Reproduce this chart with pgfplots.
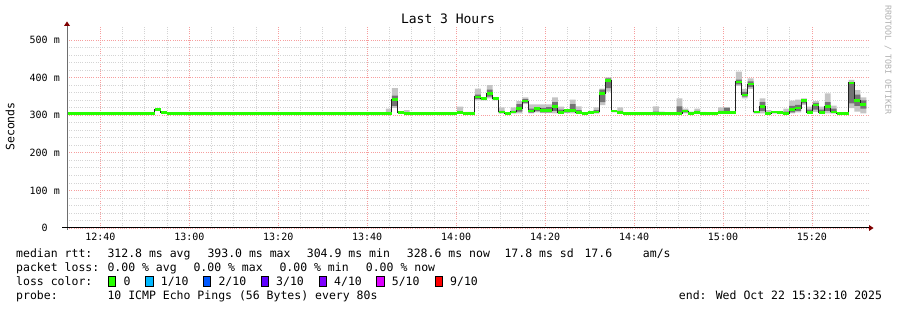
\documentclass[border=0pt]{standalone}
\usepackage{fontspec}
\usepackage{pgfplots}
\usepackage{pgfplotstable}
\pgfplotsset{compat=1.18}
\usepgfplotslibrary{fillbetween}
\newfontfamily\mono{DejaVu Sans Mono}
\newcommand{\tickfont}{\mono\fontsize{10}{12}\selectfont}
\newcommand{\lgfont}{\mono\fontsize{11.5}{13}\selectfont}
\newcommand{\titlefont}{\mono\fontsize{13}{15}\selectfont}
\newcommand{\wmfont}{\mono\fontsize{8.3}{9}\selectfont}
\definecolor{mgrid}{RGB}{246,158,158}
\definecolor{ngrid}{RGB}{212,212,212}
\definecolor{smokeA}{RGB}{196,196,196}
\definecolor{smokeB}{RGB}{115,115,115}
\definecolor{medline}{RGB}{32,32,32}
\definecolor{medgreen}{HTML}{26FF00}
\definecolor{arrowred}{HTML}{7F0000}
\definecolor{yaxis}{RGB}{110,110,110}
\definecolor{wm}{RGB}{176,176,176}
\definecolor{lossA}{HTML}{26FF00}
\definecolor{lossB}{HTML}{00B8FF}
\definecolor{lossC}{HTML}{0059FF}
\definecolor{lossD}{HTML}{5E00FF}
\definecolor{lossE}{HTML}{7E00FF}
\definecolor{lossF}{HTML}{DD00FF}
\definecolor{lossG}{HTML}{FF0000}

% t = minutes after 12:00; values in ms
\pgfplotstableread{
t med min lo hi max
32.00 305 305 305 305 305
52.22 316 316 316 316 316
53.55 307 307 307 307 307
54.88 305 305 305 305 305
104.22 305 305 305 305 318
105.55 342 320 325 352 372
106.88 308 305 305 308 308
108.22 305 305 305 305 314
109.55 305 305 305 305 305
120.22 308 305 305 308 323
121.55 305 305 305 305 309
124.22 349 340 344 355 371
125.55 344 340 342 346 348
126.88 358 345 350 368 380
128.22 344 340 342 345 346
129.55 309 305 306 312 321
130.88 305 305 305 305 305
132.22 309 305 306 312 321
133.55 318 305 310 330 338
134.88 338 330 333 343 348
136.22 311 305 307 318 329
137.55 318 308 311 322 329
138.88 312 306 308 320 329
140.22 313 306 308 322 329
141.55 324 305 312 335 348
142.88 308 305 305 315 323
144.22 312 306 308 314 316
145.55 313 305 309 330 342
146.88 308 305 306 314 324
148.22 305 305 305 305 305
149.55 307 305 305 308 309
150.88 309 305 306 314 321
152.22 358 327 335 368 371
153.55 392 363 372 398 401
154.88 311 308 309 312 313
156.22 307 305 305 312 321
157.55 305 305 305 305 305
164.22 305 305 305 310 324
165.55 305 305 305 305 310
166.88 305 305 305 305 305
169.55 305 305 305 324 345
170.88 311 305 308 314 318
172.22 305 305 305 307 310
173.55 308 305 306 312 318
174.88 305 305 305 306 309
176.22 305 305 305 305 305
178.88 308 305 306 312 321
180.22 308 305 306 320 322
181.55 308 305 306 309 310
182.88 389 378 382 395 416
184.22 354 345 350 362 370
185.55 383 370 375 390 398
186.88 309 305 306 311 312
188.22 324 305 312 335 345
189.55 305 305 305 308 314
190.88 309 305 306 310 311
192.22 308 305 306 309 309
193.55 305 305 305 310 318
194.88 315 305 308 325 339
196.22 319 308 312 328 342
197.55 339 328 332 343 345
198.88 308 305 306 315 323
200.22 327 309 315 333 338
201.55 308 305 306 315 323
202.88 323 305 312 335 358
204.22 309 305 306 318 326
205.55 305 305 305 305 305
208.22 386 319 332 388 394
209.55 340 310 325 355 367
210.88 329 305 318 340 348
212.22 329 329 329 329 329
}\data

\begin{document}
\begin{tikzpicture}
\begin{axis}[
  at={(0pt,0pt)}, anchor=south west,
  scale only axis, width=801pt, height=201pt,
  xmin=32.5, xmax=212.6, ymin=0, ymax=535,
  axis line style={draw=none},
  major tick length=0pt, minor tick length=0pt,
  xtick={40,60,80,100,120,140,160,180,200},
  xticklabels={12:40,13:00,13:20,13:40,14:00,14:20,14:40,15:00,15:20},
  minor x tick num=3,
  ytick={0,100,200,300,400,500},
  yticklabels={\phantom{00}0\phantom{00},100 m,200 m,300 m,400 m,500 m},
  minor y tick num=4,
  grid=both,
  major grid style={mgrid, line width=0.9pt, dash pattern=on 1pt off 1.2pt},
  minor grid style={ngrid, line width=0.8pt, dash pattern=on 1pt off 1.2pt},
  tick label style={font=\tickfont, inner sep=0pt},
  xticklabel style={anchor=base, yshift=-13pt},
  yticklabel style={anchor=base east, xshift=-7pt, yshift=-3.6pt},
]
\addplot[draw=none, const plot, name path=smax, forget plot] table[x=t,y=max]{\data};
\addplot[draw=none, const plot, name path=smin, forget plot] table[x=t,y=min]{\data};
\addplot[draw=none, const plot, name path=shi, forget plot] table[x=t,y=hi]{\data};
\addplot[draw=none, const plot, name path=slo, forget plot] table[x=t,y=lo]{\data};
\addplot[smokeA, draw=none] fill between[of=smax and smin];
\addplot[smokeB, draw=none] fill between[of=shi and slo];
\addplot[const plot, color=medline, line width=1pt] table[x=t,y=med]{\data};
\addplot[jump mark left, color=medgreen, line width=2.6pt] table[x=t,y=med]{\data};
\end{axis}
% axes
\draw[line width=1pt, yaxis] (0,-2pt) -- (0,202pt);
\fill[arrowred] (0,206.5pt) -- (-3pt,202pt) -- (3pt,202pt) -- cycle;
\draw[line width=1pt, black] (-5pt,0) -- (802pt,0);
\fill[arrowred] (806.5pt,0) -- (802pt,3pt) -- (802pt,-3pt) -- cycle;
% title, labels
\node[font=\titlefont, anchor=base, inner sep=0pt] at (381pt,204pt) {Last 3 Hours};
\node[font=\lgfont, rotate=90, inner sep=0pt] at (-57pt,101.5pt) {Seconds};
\node[font=\wmfont, rotate=-90, text=wm, inner sep=0pt] at (821pt,168pt) {RRDTOOL / TOBI OETIKER};
% legend
\begin{scope}[every node/.style={font=\lgfont, anchor=base west, inner sep=0pt}]
\node at (-51pt,-30pt) {median rtt:};
\node at (40.3pt,-30pt) {312.8 ms avg};
\node at (140.3pt,-30pt) {393.0 ms max};
\node at (239.7pt,-30pt) {304.9 ms min};
\node at (339.7pt,-30pt) {328.6 ms now};
\node at (437.3pt,-30pt) {17.8 ms sd};
\node at (517.3pt,-30pt) {17.6};
\node at (575.7pt,-30pt) {am/s};
\node at (-51pt,-44pt) {packet loss:};
\node at (40.3pt,-44pt) {0.00 \% avg};
\node at (126.3pt,-44pt) {0.00 \% max};
\node at (212.3pt,-44pt) {0.00 \% min};
\node at (298.7pt,-44pt) {0.00 \% now};
\node at (-51pt,-58pt) {loss color:};
\node at (56.3pt,-58pt) {0};
\node at (93.7pt,-58pt) {1/10};
\node at (151.3pt,-58pt) {2/10};
\node at (209pt,-58pt) {3/10};
\node at (267pt,-58pt) {4/10};
\node at (324.7pt,-58pt) {5/10};
\node at (383pt,-58pt) {9/10};
\node at (-51pt,-72pt) {probe:};
\node at (40.3pt,-72pt) {10 ICMP Echo Pings (56 Bytes) every 80s};
\node at (611.7pt,-72pt) {end: Wed Oct 22 15:32:10 2025};
\end{scope}
\foreach \bx/\bc in {41.3/lossA,78.7/lossB,136.3/lossC,194/lossD,252/lossE,309.7/lossF,368/lossG}{
  \filldraw[fill=\bc, draw=black, line width=0.8pt] (\bx pt,-58.3pt) rectangle ++(7.5pt,10pt);
}
\pgfresetboundingbox
\path[use as bounding box] (-67pt,-82pt) rectangle (830pt,228pt);
\end{tikzpicture}
\end{document}
